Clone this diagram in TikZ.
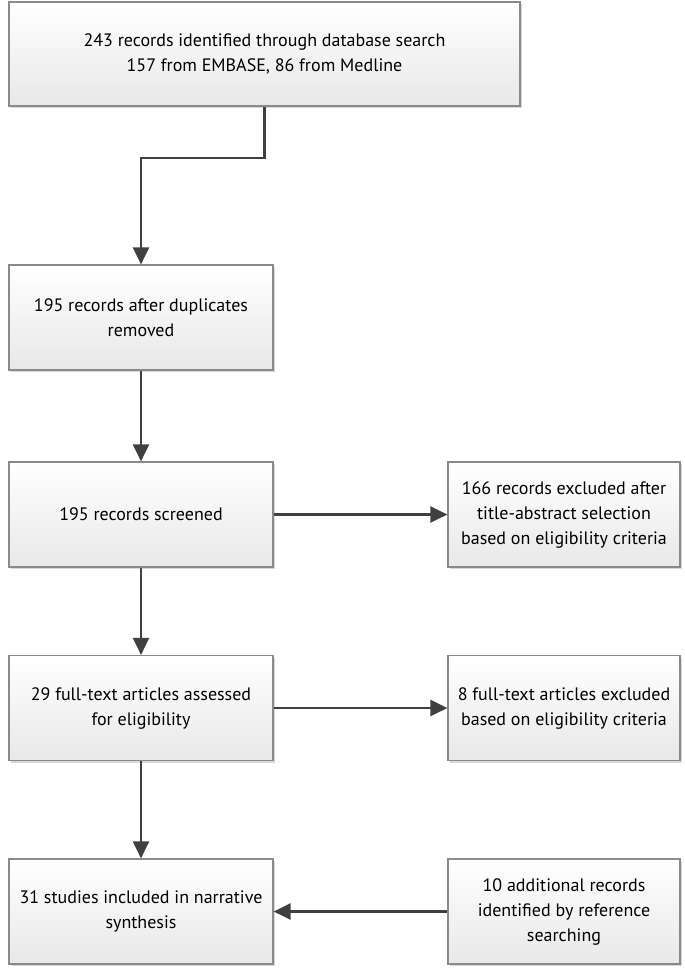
\documentclass[tikz,border=0pt]{standalone}
\usepackage{fontspec}
\setmainfont{PT Sans}
\usepackage{xcolor}
\usetikzlibrary{arrows.meta,shadows,calc}
\definecolor{linegray}{HTML}{404040}
\definecolor{edgegray}{HTML}{8A8A8A}

\begin{document}
\begin{tikzpicture}[x=1pt,y=-1pt,
box/.style={draw=edgegray, line width=1.2pt, top color=white, bottom color=black!9,
  drop shadow={shadow xshift=2pt, shadow yshift=-2pt, fill=black!25, opacity=0.6},
  align=center, inner sep=0pt, font=\fontsize{18}{25}\selectfont},
smallbox/.style={box, minimum width=264pt, minimum height=105pt},
sidebox/.style={box, minimum width=232pt, minimum height=105pt},
arr/.style={draw=linegray, line width=2.6pt, -{Triangle[width=16pt,length=17pt]}}
]
\useasboundingbox (0,0) rectangle (685,969);
\node[box, minimum width=511pt, minimum height=104pt] (search) at (264.5,54)
  {243 records identified through database search\\157 from EMBASE, 86 from Medline};
\node[smallbox] (dupl) at (141,317.5) {195 records after duplicates\\removed};
\node[smallbox] (screen) at (141,514.5) {195 records screened};
\node[sidebox] (excl1) at (564,514.5) {166 records excluded after\\title-abstract selection\\based on eligibility criteria};
\node[smallbox] (full) at (141,708) {29 full-text articles assessed\\for eligibility};
\node[sidebox] (excl2) at (564,708) {8 full-text articles excluded\\based on eligibility criteria};
\node[smallbox] (incl) at (141,911.5) {31 studies included in narrative\\synthesis};
\node[sidebox] (extra) at (564,911.5) {10 additional records\\identified by reference\\searching};
\coordinate (bend) at (264.5,158);
% connectors
\draw[arr] (search.south) -- (bend) -| (dupl.north);
\draw[arr] (dupl) -- (screen);
\draw[arr] (screen) -- (excl1);
\draw[arr] (screen) -- (full);
\draw[arr] (full) -- (excl2);
\draw[arr] (full) -- (incl);
\draw[arr] (extra) -- (incl);
\end{tikzpicture}
\end{document}
